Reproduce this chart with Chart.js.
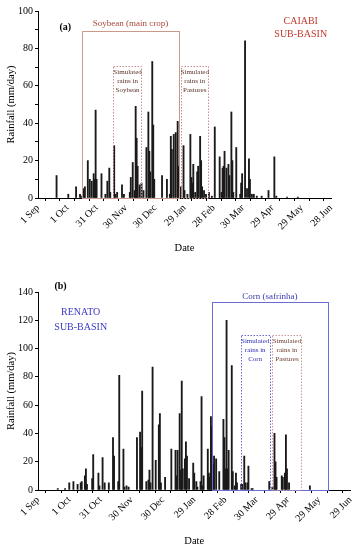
<!DOCTYPE html>
<html>
<head>
<meta charset="utf-8">
<script src="https://cdn.jsdelivr.net/npm/chart.js@4.4.1/dist/chart.umd.min.js"></script>
<style>
  body { margin: 0; background: #fff; }
  #wrap { position: relative; width: 360px; height: 550px; }
  canvas { position: absolute; left: 0; }
</style>
</head>
<body>
<div id="wrap">
  <canvas id="chartA" width="360" height="260" style="top:0"></canvas>
  <canvas id="chartB" width="360" height="290" style="top:260px"></canvas>
</div>
<script>
// Date ticks (every 30 days from 1 Sep)
const ticksA = ['1 Sep', '1 Oct', '31 Oct', '30 Nov', '30 Dec', '29 Jan', '28 Feb', '30 Mar', '29 Apr', '29 May', '28 Jun'];
const ticksB = ['1 Sep', '1 Oct', '31 Oct', '30 Nov', '30 Dec', '29 Jan', '28 Feb', '30 Mar', '29 Apr', '29 May', '29 Jun'];

// (a) Caiabi - day since 1 Sep, rainfall mm/day
const daysA = [19, 31, 39, 43, 44, 47, 48, 51, 53, 55, 57, 58, 59, 60, 65, 69, 71, 73, 74, 78, 79, 81, 86, 88,
  94, 95, 97, 99, 100, 101, 102, 104, 106, 108, 111, 113, 114, 115, 117, 118, 119, 127, 132, 135, 136, 137,
  139, 141, 143, 144, 146, 149, 150, 153, 156, 157, 158, 159, 161, 163, 164, 166, 167, 168, 170, 172, 175,
  178, 181, 186, 188, 189, 190, 191, 193, 195, 196, 198, 199, 200, 203, 207, 208, 209, 212, 214, 216, 217,
  219, 221, 224, 229, 236, 242, 244, 255, 266];
const rainA = [12, 2, 6, 2, 1, 5, 6, 20, 10, 9, 13, 10, 47, 10, 13, 2, 9, 16, 3, 28, 2, 3, 7, 2,
  3, 11, 19, 4, 49, 32, 17, 7, 8, 4, 27, 46, 25, 14, 73, 39, 10, 12, 10, 2, 33, 26,
  34, 35, 41, 17, 6, 28, 4, 2, 34, 11, 8, 18, 3, 14, 17, 33, 20, 6, 4, 2, 3,
  1, 38, 22, 3, 16, 17, 25, 16, 18, 12, 46, 20, 3, 27, 2, 8, 13, 84, 5, 21, 10,
  2, 2, 1, 1, 4, 22, 1, 0.5, 0.5];

// (b) Renato
const daysB = [19, 26, 30, 34, 38, 41, 42, 45, 46, 47, 52, 53, 58, 59, 62, 64, 68, 72, 73, 77, 78, 82, 83, 85, 87,
  95, 98, 99, 100, 104, 106, 107, 108, 110, 113, 116, 117, 118, 122, 128, 132, 133, 134, 136, 137, 138, 139,
  141, 142, 143, 145, 149, 150, 152, 153, 156, 157, 158, 159, 163, 164, 165, 166, 167, 168, 169, 171, 174,
  178, 179, 180, 181, 182, 183, 186, 187, 189, 190, 191, 195, 196, 198, 199, 201, 202, 205, 206,
  222, 225, 227, 228, 229, 234, 235, 237, 238, 239, 241, 261];
const rainB = [1, 1, 5, 6, 4, 5, 6, 10, 15, 4, 8, 25, 12, 3, 23, 5, 5, 37, 24, 6, 81, 29, 2, 3, 2,
  37, 41, 30, 70, 6, 7, 14, 5, 87, 21, 46, 54, 5, 9, 29, 28, 10, 28, 54, 14, 77, 15,
  22, 34, 24, 8, 19, 12, 6, 2, 6, 66, 3, 10, 29, 12, 9, 52, 45, 18, 24, 22, 13,
  50, 37, 15, 120, 15, 28, 88, 13, 3, 12, 5, 4, 4, 24, 5, 5, 17, 1, 1,
  6, 2, 40, 20, 9, 10, 9, 12, 39, 15, 5, 3];

// crop / simulation windows: [start day, end day, top mm]
const soyMain = [45, 144.5, 89.3];
const soySim = [77.3, 106, 70.7];
const pastSimA = [146.5, 174.4, 70.7];
const cornMain = [166.7, 278.4, 133.2];
const cornSim = [194.6, 222.3, 109.4];
const pastSimB = [225, 253, 109.4];

const SERIF = '"Liberation Serif", "DejaVu Serif", serif';

// draws boxes and text labels in data coordinates
function overlay(boxes, labels) {
    return {
        id: 'overlay',
        afterDatasetsDraw(chart) {
            const { ctx, scales: { x, y } } = chart;
            ctx.save();
            boxes.forEach(b => {
                const x0 = x.getPixelForValue(b.win[0]);
                const x1 = x.getPixelForValue(b.win[1]);
                const y0 = y.getPixelForValue(b.win[2]);
                const y1 = y.getPixelForValue(0);
                ctx.strokeStyle = b.color;
                ctx.lineWidth = 1;
                ctx.setLineDash(b.dash ? [1.5, 1.5] : []);
                ctx.strokeRect(Math.round(x0) + 0.5, Math.round(y0) + 0.5, Math.round(x1 - x0), Math.round(y1 - y0));
            });
            ctx.setLineDash([]);
            ctx.textAlign = 'center';
            ctx.textBaseline = 'middle';
            labels.forEach(l => {
                ctx.fillStyle = l.color;
                ctx.font = (l.bold ? 'bold ' : '') + l.size + 'px ' + SERIF;
                const px = x.getPixelForValue(l.x);
                const py = y.getPixelForValue(l.y);
                l.lines.forEach((t, i) => ctx.fillText(t, px, py + i * l.lh));
            });
            ctx.restore();
        }
    };
}

function makeChart(id, days, rain, yMax, labels, xHeight, titleBottom, padding, plugin) {
    const tickFont = { family: SERIF, size: 10 };
    return new Chart(document.getElementById(id), {
        type: 'bar',
        data: {
            datasets: [{
                data: days.map((d, i) => ({ x: d, y: rain[i] })),
                backgroundColor: '#1a1a1a',
                borderWidth: 0,
                barThickness: 1.2
            }]
        },
        options: {
            responsive: false,
            animation: false,
            layout: { padding: padding },
            plugins: { legend: { display: false }, tooltip: { enabled: false } },
            scales: {
                x: {
                    type: 'linear', min: 0, max: 300, offset: false,
                    ticks: {
                        stepSize: 15, autoSkip: false, minRotation: 45, maxRotation: 45, padding: 1,
                        color: '#000', font: tickFont,
                        callback: v => (v % 30 === 0 ? labels[v / 30] : '')
                    },
                    grid: { drawOnChartArea: false, tickLength: 3, color: '#000' },
                    border: { color: '#000' },
                    title: { display: true, text: 'Date', color: '#000', font: { family: SERIF, size: 10.5 }, padding: { top: 0, bottom: titleBottom } },
                    afterFit: s => { s.height = xHeight; }
                },
                y: {
                    min: 0, max: yMax,
                    ticks: {
                        stepSize: 10, padding: 2, color: '#000', font: tickFont,
                        callback: v => (v % 20 === 0 ? v : '')
                    },
                    grid: { drawOnChartArea: false, tickLength: 3, color: '#000' },
                    border: { color: '#000' },
                    title: { display: true, text: 'Rainfall (mm/day)', color: '#000', font: { family: SERIF, size: 10.5 }, padding: { top: 5, bottom: 0 } },
                    afterFit: s => { s.width = 38; }
                }
            }
        },
        plugins: [plugin]
    });
}

makeChart('chartA', daysA, rainA, 100, ticksA, 62, 5, { top: 11, right: 29, left: 0, bottom: 0 },
    overlay([
        { win: soyMain, color: '#c79a8c' },
        { win: soySim, color: '#c98f8f', dash: true },
        { win: pastSimA, color: '#c98f8f', dash: true }
    ], [
        { x: 28, y: 91.4, lines: ['(a)'], color: '#000', size: 10, bold: true, lh: 0 },
        { x: 269, y: 94.6, lines: ['CAIABI', 'SUB-BASIN'], color: '#c0392b', size: 10, lh: 13 },
        { x: 94.75, y: 93, lines: ['Soybean (main crop)'], color: '#a9473a', size: 9, lh: 0 },
        { x: 91.7, y: 67.3, lines: ['Simulated', 'rains in', 'Soybean'], color: '#5c3326', size: 7, lh: 9 },
        { x: 160.5, y: 67.3, lines: ['Simulated', 'rains in', 'Pastures'], color: '#5c3326', size: 7, lh: 9 }
    ]));

makeChart('chartB', daysB, rainB, 140, ticksB, 60, 2, { top: 32, right: 9, left: 0, bottom: 0 },
    overlay([
        { win: cornMain, color: '#6b6bd6' },
        { win: cornSim, color: '#6a6ad4', dash: true },
        { win: pastSimB, color: '#c99a9a', dash: true }
    ], [
        { x: 21.6, y: 144, lines: ['(b)'], color: '#000', size: 10, bold: true, lh: 0 },
        { x: 41, y: 125.5, lines: ['RENATO', 'SUB-BASIN'], color: '#3b3bc4', size: 10, lh: 15 },
        { x: 222.5, y: 136.5, lines: ['Corn (safrinha)'], color: '#3a3ab0', size: 9, lh: 0 },
        { x: 208.5, y: 105.2, lines: ['Simulated', 'rains in', 'Corn'], color: '#3030b8', size: 7, lh: 9 },
        { x: 239, y: 105.2, lines: ['Simulated', 'rains in', 'Pastures'], color: '#6e3e30', size: 7, lh: 9 }
    ]));
</script>
</body>
</html>
